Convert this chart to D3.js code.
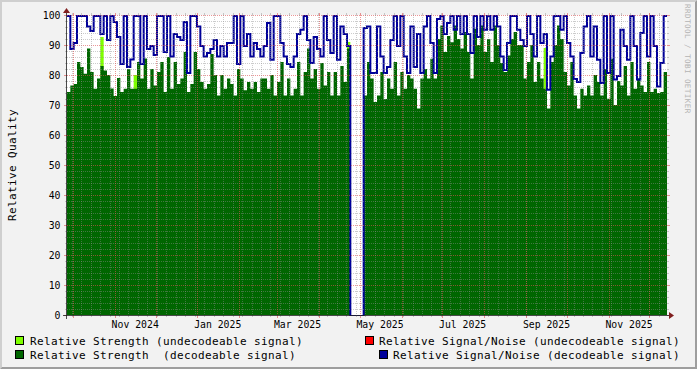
<!DOCTYPE html>
<html><head><meta charset="utf-8">
<script src="https://cdn.jsdelivr.net/npm/d3@7"></script>
<style>html,body{margin:0;padding:0;background:#f2f2f2;}svg{display:block;}text{white-space:pre;}</style>
</head><body>
<svg id="c" width="697" height="369"></svg>
<script>
// ---------- data ----------
const seriesStart = "2024-09-26T14:00:00Z";
const seriesEnd   = "2025-12-14T02:00:00Z";

const strengthDecodeable = [
 74.3,76.5,77,84.3,82.7,80.4,88.8,81,75.4,78.8,83,81.5,80,75.5,73,79,74.3,75.4,82,75.4,75.4,84.3,78.8,85.5,75.4,82,76.5,81,84.3,
 74.3,86,75.4,84.3,77,78.8,87.7,74.3,77,87.7,82,77.7,75.4,77,87,80,73.2,80,75.4,78.8,77,73.2,82,78.8,74.9,77.7,75.4,77.7,74.3,78.8,
 78.8,75.4,80,73.2,77.7,84.3,73.2,78.8,73.2,75.4,84.3,73.2,81,88.8,78.8,82,75.4,84,76.5,81,73.2,81,73.2,83,77.7,88.8,0,0,0,0,
 73.2,84.3,78.8,71,73.2,81,72,78.8,75.4,84.3,73.2,81,75.4,80,78.8,75.4,68.8,78.8,82,78.8,85.4,78.8,92,96.5,87.7,93,90.9,96.5,92,88.8,
 94.3,87.7,78.8,95.4,90,96.5,87.7,92,84.3,96.5,90,84,81,86.5,92,94.3,90,90,78.8,84.3,90,77.7,84.3,78.8,75.4,68.8,84.3,90,96.5,92,
 81,76.5,84.3,73.2,68.8,75.4,73.2,76.5,73.2,80,77.7,73.2,82,72.1,85.4,70,78,76.5,83,73.2,84.3,75.4,78.8,76.5,74.3,84.3,74.3,75.4,74,74.3,81
];
const snrDecodeable = [
 100,89,91,100,100,100,96.5,95,100,100,94,100,92,100,98,93,84,100,83,85.5,100,100,84,100,89,90,87,100,100,
 88,100,86.5,94,93,92,98,81,100,100,96.5,90,86.5,87.7,89,92,86.5,90,86.5,91,91,100,84,100,90,94,86.5,91,89,86.5,
 90,97.7,85.4,100,100,91,86.5,84,83,86.5,94,95.4,100,92,84.3,93,89,86.5,100,92,87.7,100,85.4,96.5,94,90,0,0,0,0,
 96,96.5,81,81,96.5,86.5,81,83,92,100,90,100,86.5,81,96.5,83,94,81,96.5,100,91,81,99,100,94,97.7,100,95.4,100,94,
 100,94,87.7,100,93,100,95.4,100,95.4,100,96.5,86.5,82,91,100,100,95.4,92,90,100,94,86.5,100,91,94,75.4,86.5,100,100,95.4,
 100,91,86.5,79,78,87.7,96.5,100,86.5,96.5,85.4,77.7,100,81,100,78.8,80,95.4,90,85.4,100,90,78.8,94.3,100,86.5,100,90,76.5,84.3,100
];
// undecodeable strength: only a few visible spikes (index -> value)
const strengthUndecodeableIdx = [10, 20, 84, 143];
const strengthUndecodeableVal = [92.7, 80, 91, 89];
const snrUndecodeable = []; // none visible

const yTickValues = [0,10,20,30,40,50,60,70,80,90,100];
const yAxisTitle = "Relative Quality";
const legendLeft  = ["Relative Strength (undecodeable signal)", "Relative Strength  (decodeable signal)"];
const legendRight = ["Relative Signal/Noise (undecodeable signal)", "Relative Signal/Noise (decodeable signal)"];
const watermark = "RRDTOOL / TOBI OETIKER";

const colStrU = "#7fff00", colStrD = "#006600", colSnrU = "#ff0000", colSnrD = "#000099";

// ---------- drawing ----------
const W = 697, H = 369;
const X0 = 67, X1 = 667, Y0 = 315, Y1 = 15;
const svg = d3.select("#c");
const mono = "'DejaVu Sans Mono', monospace";

// background & shading frame
svg.append("rect").attr("width", W).attr("height", H).attr("fill", "#f2f2f2");
svg.append("polygon").attr("points", `0,${H} 2,${H-2} 2,2 ${W-2},2 ${W},0 0,0`).attr("fill", "#cfcfcf");
svg.append("polygon").attr("points", `2,${H-2} ${W-2},${H-2} ${W-2},2 ${W},0 ${W},${H} 0,${H}`).attr("fill", "#9e9e9e");

// canvas
svg.append("rect").attr("x", X0).attr("y", Y1).attr("width", X1 - X0).attr("height", Y0 - Y1).attr("fill", "#fff");

const t0 = new Date(seriesStart), t1 = new Date(seriesEnd);
const x = d3.scaleUtc().domain([t0, t1]).range([X0, X1]);
const y = d3.scaleLinear().domain([0, 100]).range([Y0, Y1]);

const N = strengthDecodeable.length;
const dt = (t1 - t0) / N;
const times = d3.range(N + 1).map(i => new Date(+t0 + i * dt));
function pts(arr) {
  const p = arr.map((v, i) => ({ t: times[i], v: v }));
  p.push({ t: times[N], v: arr[N - 1] });
  return p;
}
const undecArr = new Array(N).fill(0);
strengthUndecodeableIdx.forEach((k, j) => undecArr[k] = strengthUndecodeableVal[j]);

const clip = svg.append("defs").append("clipPath").attr("id", "cv");
clip.append("rect").attr("x", X0).attr("y", Y1).attr("width", X1 - X0).attr("height", Y0 - Y1 + 1);

const area = d3.area().x(d => x(d.t)).y0(y(0)).y1(d => y(d.v)).curve(d3.curveStepAfter);
const line = d3.line().x(d => x(d.t)).y(d => y(d.v)).curve(d3.curveStepAfter);

const g = svg.append("g").attr("clip-path", "url(#cv)");
g.append("path").attr("d", area(pts(undecArr))).attr("fill", colStrU);
g.append("path").attr("d", area(pts(strengthDecodeable))).attr("fill", colStrD);
g.append("path").attr("d", line(pts(snrDecodeable))).attr("fill", "none")
  .attr("stroke", colSnrD).attr("stroke-width", 2).attr("transform", "translate(0,1)");

// grid
const minorCol = "rgba(143,143,143,0.45)", majorCol = "rgba(222,79,79,0.6)";
const grid = svg.append("g");
const yMinor = d3.range(0, 101, 2).filter(v => v % 10 !== 0);
yMinor.forEach(v => {
  const yy = Math.round(y(v)) + 0.5;
  grid.append("line").attr("x1", X0).attr("x2", X1).attr("y1", yy).attr("y2", yy)
    .attr("stroke", minorCol).attr("stroke-dasharray", "1,1");
  grid.append("line").attr("x1", X0 - 2).attr("x2", X0).attr("y1", yy).attr("y2", yy).attr("stroke", minorCol);
  grid.append("line").attr("x1", X1).attr("x2", X1 + 2).attr("y1", yy).attr("y2", yy).attr("stroke", minorCol);
});
yTickValues.forEach(v => {
  const yy = Math.round(y(v)) + 0.5;
  if (v > 0) grid.append("line").attr("x1", X0).attr("x2", X1).attr("y1", yy).attr("y2", yy)
    .attr("stroke", majorCol).attr("stroke-dasharray", "1,1");
  grid.append("line").attr("x1", X0 - 3).attr("x2", X0).attr("y1", yy).attr("y2", yy).attr("stroke", majorCol);
  grid.append("line").attr("x1", X1).attr("x2", X1 + 3).attr("y1", yy).attr("y2", yy).attr("stroke", majorCol);
});
const weeks = d3.utcMonday.range(t0, t1);
const months = d3.utcMonth.range(t0, t1);
weeks.forEach(w => {
  const xx = Math.round(x(w)) + 0.5;
  grid.append("line").attr("x1", xx).attr("x2", xx).attr("y1", Y1).attr("y2", Y0)
    .attr("stroke", minorCol).attr("stroke-dasharray", "1,1");
  grid.append("line").attr("x1", xx).attr("x2", xx).attr("y1", Y1 - 2).attr("y2", Y1).attr("stroke", minorCol);
  grid.append("line").attr("x1", xx).attr("x2", xx).attr("y1", Y0).attr("y2", Y0 + 2).attr("stroke", minorCol);
});
months.forEach(m => {
  const xx = Math.round(x(m)) + 0.5;
  grid.append("line").attr("x1", xx).attr("x2", xx).attr("y1", Y1).attr("y2", Y0)
    .attr("stroke", majorCol).attr("stroke-dasharray", "1,1");
  grid.append("line").attr("x1", xx).attr("x2", xx).attr("y1", Y1 - 2).attr("y2", Y1).attr("stroke", majorCol);
  grid.append("line").attr("x1", xx).attr("x2", xx).attr("y1", Y0).attr("y2", Y0 + 3).attr("stroke", majorCol);
});

// axes
const axisCol = "rgba(31,31,31,0.8)";
svg.append("line").attr("x1", X0 - 4).attr("x2", X1 + 4).attr("y1", Y0 + 0.5).attr("y2", Y0 + 0.5).attr("stroke", axisCol);
svg.append("line").attr("x1", X0 - 0.5).attr("x2", X0 - 0.5).attr("y1", Y0 + 4).attr("y2", Y1 - 4).attr("stroke", axisCol);
svg.append("polygon").attr("points", `${X1+2},${Y0-3} ${X1+2},${Y0+4} ${X1+7},${Y0+0.5}`).attr("fill", "#801f1f");
svg.append("polygon").attr("points", `${X0-4},${Y1-2} ${X0+3},${Y1-2} ${X0-0.5},${Y1-7}`).attr("fill", "#801f1f");

// y labels
svg.append("g").selectAll("text").data(yTickValues).join("text")
  .attr("x", 60.5).attr("y", d => y(d) + 3.5).attr("text-anchor", "end")
  .attr("font-family", mono).attr("font-size", "9.8px").attr("fill", "#000")
  .text(d => d);

// x labels (every 2 months, centered mid-month)
const fmt = d3.utcFormat("%b %Y");
const labMonths = d3.utcMonth.every(2).range(t0, t1).filter(m => d3.utcDay.offset(m, 15) <= t1);
svg.append("g").selectAll("text").data(labMonths).join("text")
  .attr("x", d => x(d3.utcDay.offset(d, 15))).attr("y", 328).attr("text-anchor", "middle")
  .attr("font-family", mono).attr("font-size", "9.8px").attr("fill", "#000")
  .text(d => fmt(d));

// y axis title
svg.append("text").attr("transform", "translate(15.5,165) rotate(-90)").attr("text-anchor", "middle")
  .attr("font-family", mono).attr("font-size", "11px").attr("letter-spacing", "0.38px").attr("fill", "#000")
  .text(yAxisTitle);

// watermark
svg.append("text").attr("transform", "translate(685,4) rotate(90)").attr("text-anchor", "start")
  .attr("font-family", mono).attr("font-size", "7.6px").attr("letter-spacing", "0.42px").attr("fill", "#b4b4b4")
  .text(watermark);

// legend
const leg = svg.append("g").attr("font-family", mono).attr("font-size", "11px").attr("letter-spacing", "0.38px");
const legendRows = [345, 359];
const leftCols = [colStrU, colStrD];
const rightCols = [colSnrU, colSnrD];
legendLeft.forEach((s, i) => {
  leg.append("rect").attr("x", 15.5).attr("y", legendRows[i] - 8.5).attr("width", 8).attr("height", 8)
    .attr("fill", leftCols[i]).attr("stroke", "#000").attr("stroke-width", 1);
  leg.append("text").attr("x", 30).attr("y", legendRows[i]).attr("xml:space", "preserve").text(s);
});
legendRight.forEach((s, i) => {
  const tx = 680 - s.length * 7;
  leg.append("rect").attr("x", tx - 14 + 0.5).attr("y", legendRows[i] - 8.5).attr("width", 8).attr("height", 8)
    .attr("fill", rightCols[i]).attr("stroke", "#000").attr("stroke-width", 1);
  leg.append("text").attr("x", tx).attr("y", legendRows[i]).attr("xml:space", "preserve").text(s);
});
</script>
</body></html>
